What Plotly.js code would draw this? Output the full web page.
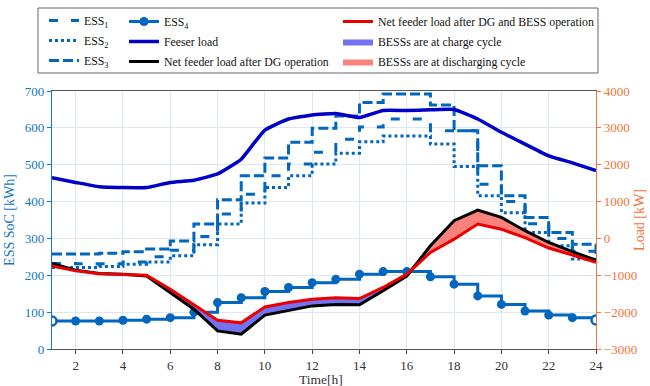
<!DOCTYPE html>
<html><head><meta charset="utf-8">
<script src="https://cdn.plot.ly/plotly-3.0.1.min.js"></script>
<style>html,body{margin:0;padding:0;background:#fff}#chart{width:650px;height:386px}</style>
</head><body><div id="chart"></div>
<script>
// ---- data ----
const hours = [1,2,3,4,5,6,7,8,9,10,11,12,13,14,15,16,17,18,19,20,21,22,23,24];
const ess1 = [232,231,231,236,250,268,305,366,420,470,502,534,569,602,624,624,592,592,447,400,340,300,265,240];
const ess2 = [221,221,224,230,236,253,283,339,396,438,470,502,531,562,578,578,556,495,416,370,316,280,244,240];
const ess3 = [258,258,260,264,271,293,339,405,470,518,561,599,632,669,692,692,662,592,497,416,357,316,284,250];
const ess4 = [76,76,76,78,81,85,100,126,139,156,167,180,189,203,210,210,196,176,144,121,103,92,85,79];
const feederLoad = [1650,1520,1400,1380,1380,1520,1580,1750,2150,2940,3240,3350,3390,3280,3470,3470,3490,3500,3240,2880,2560,2240,2050,1840];
const netDG = [-680,-860,-950,-970,-1020,-1470,-1920,-2510,-2600,-2080,-1950,-1830,-1790,-1800,-1420,-1020,-200,480,770,570,210,-110,-360,-590];
const netDGBESS = [-750,-880,-960,-980,-1000,-1380,-1790,-2220,-2290,-1860,-1740,-1650,-1610,-1630,-1330,-970,-380,-20,390,250,20,-260,-450,-650];
const xTicks = [2,4,6,8,10,12,14,16,18,20,22,24];
const leftTicks = [0,100,200,300,400,500,600,700];
const rightTicks = [-3000,-2000,-1000,0,1000,2000,3000,4000];

// ---- fill between black and red, with crossings inserted ----
function crossGrid(x, a, b){
  const xs=[], as=[], bs=[];
  for(let i=0;i<x.length;i++){
    if(i>0){
      const d0=a[i-1]-b[i-1], d1=a[i]-b[i];
      if(d0*d1<0){
        const t=d0/(d0-d1);
        const xc=x[i-1]+t*(x[i]-x[i-1]);
        const yc=a[i-1]+t*(a[i]-a[i-1]);
        xs.push(xc); as.push(yc); bs.push(yc);
      }
    }
    xs.push(x[i]); as.push(a[i]); bs.push(b[i]);
  }
  return {xs, as, bs};
}
const g = crossGrid(hours, netDGBESS, netDG);
const upper = g.as.map((v,i)=>Math.max(v,g.bs[i]));
const polyX = g.xs.concat(g.xs.slice().reverse());
const chargeY = upper.concat(g.bs.slice().reverse());
const dischargeY = upper.concat(g.as.slice().reverse());

const essColor = 'rgb(0,102,190)';
const blueAx = 'rgb(20,120,200)';
const orangeAx = 'rgb(245,115,55)';
const serif = '"Liberation Serif", "Times New Roman", Times, serif';
const last = hours.length - 1;

const traces = [
  {x:hours, y:ess1, name:'ESS<sub>1</sub>', mode:'lines', line:{shape:'hv', color:essColor, width:3, dash:'9px,13px'}, legend:'legend', legendgroup:'a1', legendrank:1},
  {x:hours, y:ess2, name:'ESS<sub>2</sub>', mode:'lines', line:{shape:'hv', color:essColor, width:3, dash:'3px,3px'}, legend:'legend', legendgroup:'a2', legendrank:2},
  {x:hours, y:ess3, name:'ESS<sub>3</sub>', mode:'lines', line:{shape:'hv', color:essColor, width:3, dash:'10px,4px'}, legend:'legend', legendgroup:'a3', legendrank:3},
  {x:hours, y:ess4, name:'ESS<sub>4</sub>', mode:'lines+markers', line:{shape:'hv', color:essColor, width:3}, marker:{size:9, color:essColor}, legend:'legend2', legendgroup:'b1', legendrank:1},
  {x:[hours[0], hours[last]], y:[ess4[0], ess4[last]], mode:'markers', showlegend:false, marker:{size:9, color:'#ffffff', line:{color:essColor, width:2.5}}, hoverinfo:'skip'},
  {x:hours, y:feederLoad, yaxis:'y2', name:'Feeser load', mode:'lines', line:{color:'rgb(0,0,200)', width:3.5, shape:'spline', smoothing:0.4}, legend:'legend2', legendgroup:'b2', legendrank:2},
  {x:polyX, y:chargeY, yaxis:'y2', name:'BESSs are at charge cycle', mode:'lines', fill:'toself', fillcolor:'rgb(115,115,240)', line:{width:0, color:'rgb(115,115,240)'}, legend:'legend3', legendgroup:'c2', legendrank:2, hoverinfo:'skip'},
  {x:polyX, y:dischargeY, yaxis:'y2', name:'BESSs are at discharging cycle', mode:'lines', fill:'toself', fillcolor:'rgb(250,130,125)', line:{width:0, color:'rgb(250,130,125)'}, legend:'legend3', legendgroup:'c3', legendrank:3, hoverinfo:'skip'},
  {x:hours, y:netDG, yaxis:'y2', name:'Net feeder load after DG operation', mode:'lines', line:{color:'#000', width:3}, legend:'legend2', legendgroup:'b3', legendrank:3},
  {x:hours, y:netDGBESS, yaxis:'y2', name:'Net feeder load after DG and BESS operation', mode:'lines', line:{color:'rgb(235,0,0)', width:3}, legend:'legend3', legendgroup:'c1', legendrank:1}
];

const PW = 544, PH = 258, PL = 52, PT = 91;
function px2x(p){ return (p-PL)/PW; }
function px2y(p){ return (PT+PH-p)/PH; }
const legendBase = {font:{family:serif, size:11.8, color:'#111'}, bgcolor:'rgba(0,0,0,0)', borderwidth:0, xanchor:'left', yanchor:'top', traceorder:'grouped', tracegroupgap:1, itemwidth:30};

const layout = {
  width:650, height:386,
  margin:{l:52, r:54, t:91, b:37, autoexpand:false},
  paper_bgcolor:'#fff', plot_bgcolor:'#fff',
  font:{family:serif, size:13},
  showlegend:true,
  legend: Object.assign({}, legendBase, {x:px2x(44), y:px2y(6)}),
  legend2: Object.assign({}, legendBase, {x:px2x(124), y:px2y(7)}),
  legend3: Object.assign({}, legendBase, {x:px2x(338), y:px2y(7)}),
  xaxis:{range:[1,24], type:'linear', tickvals:xTicks, ticks:'outside', ticklen:4, tickcolor:'#444',
    showline:true, mirror:true, linecolor:'#555', linewidth:1,
    showgrid:true, gridcolor:'rgb(222,230,240)', zeroline:false,
    tickfont:{family:serif, size:13, color:'#333'}},
  yaxis:{range:[0,700], type:'linear', tickvals:leftTicks, ticks:'outside', ticklen:4, tickcolor:blueAx,
    showline:true, linecolor:blueAx, linewidth:1.2,
    showgrid:true, gridcolor:'rgb(222,230,240)', zeroline:false,
    tickfont:{family:serif, size:13, color:blueAx},
    title:{text:'ESS SoC [kWh]', font:{family:serif, size:14, color:blueAx}}},
  yaxis2:{range:[-3000,4000], type:'linear', tickvals:rightTicks, overlaying:'y', side:'right', ticks:'outside', ticklen:4, tickcolor:orangeAx,
    showline:true, linecolor:orangeAx, linewidth:1.2, showgrid:false, zeroline:false,
    tickfont:{family:serif, size:13, color:orangeAx},
    title:{text:'Load [kW]', font:{family:serif, size:14, color:orangeAx}}},
  annotations:[{text:'Time[h]', xref:'paper', yref:'paper', x:px2x(321), y:px2y(379.5), xanchor:'center', yanchor:'middle', showarrow:false, font:{family:serif, size:13.5, color:'#333'}}],
  shapes:[{type:'rect', xref:'paper', yref:'paper', x0:px2x(38), x1:px2x(598), y0:px2y(73), y1:px2y(8), line:{color:'#666', width:1}, fillcolor:'rgba(0,0,0,0)'}]
};

Plotly.newPlot('chart', traces, layout, {displayModeBar:false, staticPlot:true});
</script></body></html>
